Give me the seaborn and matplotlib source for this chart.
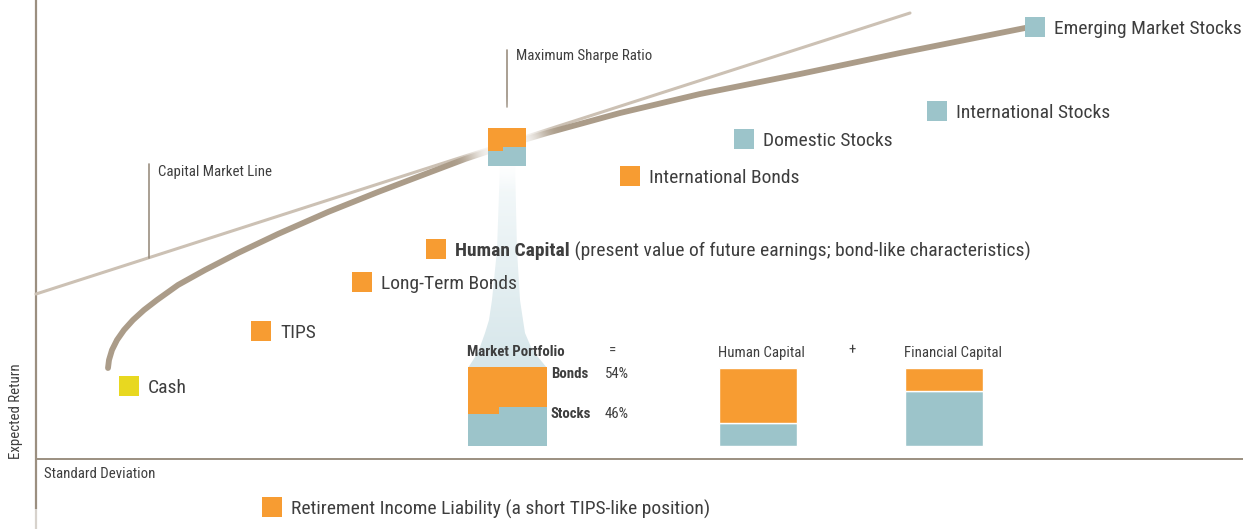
import numpy as np
import matplotlib
matplotlib.use('Agg')
import matplotlib.pyplot as plt
import seaborn as sns
import pandas as pd
from matplotlib.patches import Polygon

# ---- data (risk / return measured in chart units from the axis origin) ----
asset_names = ['Cash', 'TIPS', 'Long-Term Bonds', 'Human Capital', 'International Bonds',
               'Domestic Stocks', 'International Stocks', 'Emerging Market Stocks',
               'Retirement Income Liability (a short TIPS-like position)']
asset_risk = [93, 225, 326, 400, 594, 708, 901, 999, 236]
asset_return = [73, 128, 177, 210, 283, 320, 348, 432, -48]
asset_kind = ['cash', 'bond', 'bond', 'bond', 'bond', 'stock', 'stock', 'stock', 'bond']
asset_note = ['', '', '', ' (present value of future earnings; bond-like characteristics)', '',
              '', '', '', '']

frontier_risk = [72, 73, 76, 81, 88, 97, 108, 121, 142, 169, 202, 242, 292, 342, 392, 429,
                 471, 511, 584, 664, 764, 864, 994]
frontier_return = [91, 99, 109, 119, 129, 139, 149, 159, 174, 189, 206, 225, 247, 267, 286,
                   300, 314, 326, 346, 365, 385, 406, 432]

cml_risk = [0, 874]
cml_return = [165, 446]

market_risk, market_return = 471, 312

# composition of the portfolios (share of stocks, per column)
mp_col_width = [0.39, 0.61]
mp_stock_share = [0.40, 0.50]
hc_stock_share = [0.30]
fc_stock_share = [0.70]
mp_bonds_pct, mp_stocks_pct = 54, 46

ORANGE = '#f79c32'
TEAL = '#9cc4ca'
YELLOW = '#e8d820'
FRONTIER = '#ab9c89'
CML = '#ccc1b4'
AXIS = '#9b8f80'
TEXT = '#3e3e3e'
SMALL = 10.7

sns.set_theme(style='white')
plt.rcParams['font.family'] = ['Roboto Condensed', 'Liberation Sans Narrow', 'DejaVu Sans']

fig = plt.figure(figsize=(12.43, 5.29), dpi=100)
ax = fig.add_axes([0, 0, 1, 1])
ax.set_xlim(-36, 1207)
ax.set_ylim(-70, 459)
ax.axis('off')

# axes lines
ax.plot([0, 0], [-50, 459], color=AXIS, lw=1.6, zorder=2, solid_capstyle='butt')
ax.plot([0, 0], [-70, -50], color=AXIS, lw=1.6, alpha=0.4, zorder=2)
ax.plot([0, 1207], [0, 0], color=AXIS, lw=1.4, zorder=2)
ax.text(-20, 0, 'Expected Return', rotation=90, ha='center', va='bottom',
        fontsize=SMALL, color=TEXT)
ax.text(8, -15, 'Standard Deviation', ha='left', va='center', fontsize=SMALL, color=TEXT)

# capital market line and efficient frontier
sns.lineplot(x=cml_risk, y=cml_return, ax=ax, color=CML, lw=2.2, zorder=3)
sns.lineplot(x=frontier_risk, y=frontier_return, ax=ax, color=FRONTIER, lw=4.2,
             zorder=4, sort=False, solid_capstyle='round', solid_joinstyle='round')

# call-outs
ax.plot([113, 113], [201, 295], color=AXIS, lw=1.2, zorder=3)
ax.text(122, 287, 'Capital Market Line', ha='left', va='center', fontsize=SMALL, color=TEXT)
ax.plot([471, 471], [352, 409], color=AXIS, lw=1.2, zorder=3)
ax.text(480, 403, 'Maximum Sharpe Ratio', ha='left', va='center', fontsize=SMALL, color=TEXT)

# soft white glow around the tangency portfolio (fades the lines)
gx = np.linspace(400, 545, 150)
gy = np.linspace(262, 362, 100)
GX, GY = np.meshgrid(gx, gy)
r = np.hypot(GX - market_risk, (GY - market_return) * 1.1)
glow = np.ones(GX.shape + (4,))
glow[..., 3] = 0.92 * np.exp(-(r / 40) ** 4)
ax.imshow(glow, extent=[400, 545, 262, 362], origin='lower', aspect='auto',
          zorder=5, interpolation='bilinear')

# funnel from the tangency point to the market portfolio box
left_edge = [(464, 294), (461, 209), (456, 159), (453, 139), (449, 126), (444, 112),
             (439, 102), (432, 91)]
right_edge = [(479, 294), (481, 209), (484, 159), (487, 139), (489, 126), (495, 112),
              (502, 102), (511, 91)]
funnel = Polygon(left_edge + right_edge[::-1], closed=True, facecolor='none', edgecolor='none')
ax.add_patch(funnel)
t = np.linspace(0, 1, 200)[:, None, None]
c_bot = np.array(matplotlib.colors.to_rgb('#d6e6ea'))
c_top = np.array(matplotlib.colors.to_rgb('#f6fafb'))
grad = np.ones((200, 1, 4))
grad[..., :3] = c_bot * (1 - t) + c_top * t
im = ax.imshow(grad, extent=[431, 511, 91, 294], origin='lower', aspect='auto',
               zorder=1, interpolation='bilinear')
im.set_clip_path(funnel)


def draw_stack(left, bottom, size, widths, stock_share, edge=None):
    x = left
    for w, s in zip(widths, stock_share):
        ww = w * size
        ax.bar(x, s * size, width=ww, bottom=bottom, align='edge', color=TEAL,
               edgecolor=edge or 'none', lw=1 if edge else 0, zorder=6)
        ax.bar(x, (1 - s) * size, width=ww, bottom=bottom + s * size, align='edge',
               color=ORANGE, edgecolor=edge or 'none', lw=1 if edge else 0, zorder=6)
        x += ww


# tangency square and portfolio boxes
draw_stack(market_risk - 19, market_return - 19, 38, mp_col_width, mp_stock_share)
draw_stack(432, 13, 79, mp_col_width, mp_stock_share)
draw_stack(683, 13, 78, [1.0], hc_stock_share, edge='white')
draw_stack(869, 13, 78, [1.0], fc_stock_share, edge='white')

ax.text(431, 108, 'Market Portfolio', ha='left', va='center_baseline', fontsize=SMALL,
        fontweight='bold', color=TEXT)
ax.text(577, 110, '=', ha='center', va='center_baseline', fontsize=SMALL, color=TEXT)
ax.text(682, 108, 'Human Capital', ha='left', va='center_baseline', fontsize=SMALL, color=TEXT)
ax.text(816, 110, '+', ha='center', va='center_baseline', fontsize=SMALL, color=TEXT)
ax.text(868, 108, 'Financial Capital', ha='left', va='center_baseline', fontsize=SMALL, color=TEXT)
ax.text(515, 86, 'Bonds', ha='left', va='center_baseline', fontsize=SMALL, fontweight='bold', color=TEXT)
ax.text(569, 86, f'{mp_bonds_pct}%', ha='left', va='center_baseline', fontsize=SMALL, color=TEXT)
ax.text(515, 46, 'Stocks', ha='left', va='center_baseline', fontsize=SMALL, fontweight='bold', color=TEXT)
ax.text(569, 46, f'{mp_stocks_pct}%', ha='left', va='center_baseline', fontsize=SMALL, color=TEXT)

# asset classes
df = pd.DataFrame({'risk': asset_risk, 'ret': asset_return, 'kind': asset_kind})
sns.scatterplot(data=df, x='risk', y='ret', hue='kind', marker='s', s=207, linewidth=0,
                palette={'cash': YELLOW, 'bond': ORANGE, 'stock': TEAL}, legend=False,
                ax=ax, zorder=7)

renderer = fig.canvas.get_renderer()
for name, xr, yr, note in zip(asset_names, asset_risk, asset_return, asset_note):
    bold = 'bold' if note else 'normal'
    t1 = ax.text(xr + 19, yr, name, ha='left', va='center_baseline', fontsize=14,
                 fontweight=bold, color=TEXT, zorder=8)
    if note:
        bb = t1.get_window_extent(renderer)
        x1 = ax.transData.inverted().transform((bb.x1, bb.y0))[0]
        ax.text(x1, yr, note, ha='left', va='center_baseline', fontsize=14,
                color=TEXT, zorder=8)

fig.savefig('out.png', dpi=100)
